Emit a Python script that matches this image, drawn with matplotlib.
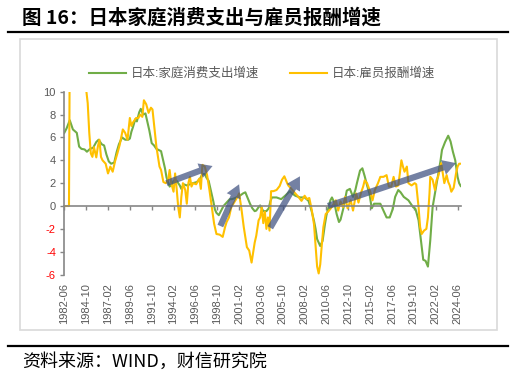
import matplotlib
matplotlib.use("Agg")
import matplotlib.pyplot as plt
from matplotlib.lines import Line2D
from matplotlib.patches import Rectangle

plt.rcParams['font.family'] = ['Liberation Sans', 'Noto Sans CJK SC']

# months counted from 1982-06 (0)
green_m = [0, 3, 7, 11, 16, 19, 22, 26, 29, 33, 37, 41, 44, 48, 51, 54, 57, 60, 64, 67,
           70, 74, 78, 82, 84, 86, 88, 91, 93, 96, 98, 101, 104, 106, 109, 112, 115, 118, 121, 124,
           127, 129, 131, 133, 135, 138, 140, 144, 148, 150, 153, 157, 161, 165, 170, 174, 177, 180, 182, 185,
           187, 189, 191, 193, 195, 198, 201, 204, 208, 212, 215, 219, 222, 225, 229, 232, 235, 238, 241, 244,
           246, 249, 251, 253, 255, 259, 262, 264, 266, 272, 278, 283, 286, 289, 292, 296, 302, 308, 313, 317,
           320, 322, 324, 328, 331, 334, 336, 339, 341, 343, 346, 349, 352, 354, 358, 362, 366, 370, 373, 375,
           379, 382, 385, 388, 391, 394, 397, 401, 405, 409, 413, 417, 421, 424, 428, 431, 435, 441, 447, 450,
           454, 457, 460, 463, 466, 469, 472, 475, 478, 482, 484, 488, 492, 495, 498, 501, 504, 506, 508]
green_v = [6.4, 6.8, 7.5, 6.7, 6.4, 5.2, 5.0, 4.95, 4.75, 5.0, 5.1, 5.6, 5.8, 5.4, 5.3, 4.5, 3.9, 3.7, 3.8, 4.7,
           5.4, 6.0, 5.8, 5.8, 5.9, 6.5, 6.9, 7.6, 7.4, 8.2, 8.5, 8.0, 8.1, 7.5, 6.6, 5.5, 5.3, 5.0, 4.9, 4.8,
           3.9, 3.3, 2.5, 2.1, 1.7, 1.9, 2.2, 2.2, 1.8, 1.5, 1.9, 1.8, 1.9, 2.0, 2.1, 2.4, 2.8, 2.8, 2.5, 2.2,
           1.6, 1.0, 0.4, -0.3, -0.6, -0.8, -0.4, 0.0, 0.3, 0.6, 0.6, 0.7, 0.8, 0.9, 1.1, 1.2, 0.7, 0.2, -0.2, -0.45,
           -0.4, -0.1, 0.05, -0.2, -0.45, -0.45, -0.2, 0.4, 0.75, 0.75, 0.6, 0.9, 1.1, 1.3, 1.1, 0.9, 0.75, 0.75, 0.45, -0.45,
           -1.3, -2.0, -2.9, -3.5, -3.05, -1.6, -0.8, 0.0, 0.5, 0.75, 0.3, -0.7, -1.4, -1.2, -0.1, 1.35, 1.5, 0.8, 1.4, 2.0,
           3.1, 3.3, 2.6, 1.8, 1.1, -0.2, 0.2, 0.2, 0.2, -0.4, -1.0, -1.0, -0.25, 0.8, 1.4, 1.2, 0.8, 0.5, -0.1, -0.25,
           -1.25, -3.0, -4.7, -4.8, -5.3, -3.0, -0.1, 1.1, 2.25, 3.9, 4.9, 5.6, 6.15, 5.65, 4.75, 4.0, 2.55, 2.0, 1.75]

yellow_m = [0, 6, 7, 12, 18, 24, 27, 28, 30, 32, 34, 36, 38, 41, 43, 45, 47, 49, 53, 56,
            59, 62, 65, 68, 71, 75, 78, 81, 84, 86, 88, 92, 95, 97, 100, 102, 105, 108, 111, 113,
            116, 118, 122, 124, 127, 130, 133, 135, 137, 140, 142, 144, 146, 148, 150, 152, 155, 157, 159, 161,
            163, 165, 169, 173, 175, 177, 180, 183, 186, 189, 192, 195, 199, 203, 206, 208, 211, 214, 218, 222,
            224, 227, 230, 234, 237, 240, 242, 244, 246, 249, 251, 253, 255, 257, 259, 261, 263, 265, 268, 272,
            276, 279, 282, 285, 287, 291, 296, 300, 304, 308, 311, 314, 317, 320, 322, 324, 326, 328, 330, 332,
            335, 338, 341, 345, 348, 351, 354, 357, 360, 363, 367, 370, 374, 377, 380, 383, 385, 388, 392, 395,
            398, 402, 405, 409, 413, 416, 419, 422, 425, 428, 430, 432, 434, 436, 439, 441, 445, 449, 451, 454,
            456, 458, 461, 464, 466, 468, 469, 472, 475, 477, 479, 481, 483, 485, 487, 490, 492, 494, 496, 499,
            502, 504, 506, 508]
yellow_v = [0, 0, 14, 16, 15, 14, 12, 10.2, 9.0, 6.4, 4.6, 4.3, 5.15, 4.25, 5.2, 5.8, 4.3, 4.0, 3.7, 2.85,
            3.45, 3.0, 3.9, 4.6, 5.35, 6.7, 6.4, 5.8, 7.7, 7.0, 7.3, 7.7, 7.7, 8.0, 7.8, 9.25, 8.9, 8.15, 8.6, 8.45,
            6.5, 5.2, 3.45, 3.15, 2.1, 2.0, 2.25, 3.15, 2.0, 1.25, 2.85, 1.5, -0.1, -1.0, 0.8, 2.0, 1.4, 0.2, 2.0, 2.55,
            1.7, 2.0, 1.9, 2.4, 1.5, 3.6, 3.45, 2.7, 1.4, -0.1, -1.55, -2.45, -2.5, -2.7, -1.85, -1.4, -1.0, -0.1, 0.35, 0.8,
            1.1, -0.25, -1.85, -3.6, -3.9, -4.95, -4.05, -3.2, -2.6, -1.25, -1.0, -0.1, -1.5, -0.5, -2.0, -1.0, -2.15, 1.3, 1.3, 1.4,
            1.75, 2.3, 2.6, 2.1, 1.8, 1.5, 1.1, 0.8, 0.45, 0.9, 0.6, 0.7, -0.3, -1.6, -3.5, -5.3, -5.9, -5.1, -3.4, -1.85,
            -0.7, -0.5, -0.25, 0.15, 0.5, -0.4, 0.4, -0.1, 0.8, -0.2, 0.5, -0.4, 1.1, 0.3, 1.1, 1.7, 2.25, 2.0, 1.25, 0.5,
            1.4, 2.0, 2.55, 2.55, 2.7, 1.7, 1.7, 2.55, 1.7, 1.8, 2.85, 4.0, 3.45, 3.0, 3.45, 2.0, 1.8, 2.0, 1.9, -0.1,
            -1.85, -2.45, -2.15, -2.0, -1.0, 1.1, 2.55, 2.3, 1.4, 2.25, 2.55, 3.15, 3.75, 2.9, 2.0, 2.7, 2.1, 1.8, 1.25, 1.6,
            2.85, 3.45, 3.7, 3.7]

tick_m = [0, 28, 56, 84, 112, 140, 168, 196, 224, 252, 280, 308, 336, 364, 392, 420, 448, 476, 504]
tick_labels = ['1982-06', '1984-10', '1987-02', '1989-06', '1991-10', '1994-02', '1996-06', '1998-10',
               '2001-02', '2003-06', '2005-10', '2008-02', '2010-06', '2012-10', '2015-02', '2017-06',
               '2019-10', '2022-02', '2024-06']
y_ticks = [10, 8, 6, 4, 2, 0, -2, -4, -6]

# trend arrows (tail, head) in data coords
trend_arrows = [((131, 2.0), (190, 3.5)),
                ((200, -1.75), (224, 1.9)),
                ((264, -1.9), (302, 2.6)),
                ((338, 0.0), (502, 3.75))]

W, H = 517, 381
fig = plt.figure(figsize=(W / 100, H / 100), dpi=100)

def fx(x):
    return x / W

def fy(y):
    return 1 - y / H

ax = fig.add_axes([fx(64.3), fy(274.6), fx(460.7) - fx(64.3), fy(91.7) - fy(274.6)])

ax.plot(green_m, green_v, color='#70AD47', lw=1.5, label='日本:家庭消费支出增速')
ax.plot(yellow_m, yellow_v, color='#FFC000', lw=1.5, label='日本:雇员报酬增速')

for tail, head in trend_arrows:
    ax.annotate('', xy=head, xytext=tail,
                arrowprops=dict(arrowstyle='simple,head_length=0.95,head_width=1.1,tail_width=0.45',
                                mutation_scale=10, color='#3f5080', alpha=0.72, lw=0,
                                shrinkA=0, shrinkB=0))

ax.set_xlim(0, 508)
ax.set_ylim(-6, 10)
ax.set_yticks(y_ticks)
ax.set_yticklabels([str(v) for v in y_ticks], fontsize=8)
for lab, v in zip(ax.get_yticklabels(), y_ticks):
    lab.set_color('#FF0000' if v < 0 else '#595959')

ax.spines['top'].set_visible(False)
ax.spines['right'].set_visible(False)
ax.spines['left'].set_color('#868686')
ax.spines['bottom'].set_color('#868686')
ax.spines['bottom'].set_position(('data', 0))
ax.spines['left'].set_linewidth(1.2)
ax.spines['bottom'].set_linewidth(1.2)
ax.set_xticks(tick_m)
ax.tick_params(axis='x', labelbottom=False, direction='out', length=3, color='#868686', width=1)
ax.tick_params(axis='y', direction='out', length=3, color='#868686', width=1, pad=3)

sec = ax.secondary_xaxis('bottom')
sec.set_xticks(tick_m)
sec.set_xticklabels(tick_labels, rotation=90, fontsize=8, color='#595959')
sec.spines['bottom'].set_visible(False)
sec.tick_params(length=0, pad=6)

fig.legend(loc='center', bbox_to_anchor=(fx(262), fy(74)), ncol=2, frameon=False,
           fontsize=9, handlelength=3.0, handletextpad=0.4, columnspacing=2.4,
           labelcolor='#595959')

# title, rules, frame, source
fig.text(fx(22), fy(18), '图 16：日本家庭消费支出与雇员报酬增速', fontsize=14, fontweight='bold',
         va='center', ha='left', family=['Noto Sans CJK SC'])
fig.add_artist(Line2D([fx(8), fx(508)], [fy(32), fy(32)], color='black', lw=1.6))
fig.add_artist(Line2D([fx(8), fx(508)], [fy(346), fy(346)], color='black', lw=1.6))
fig.add_artist(Rectangle((fx(19.5), fy(330)), fx(497) - fx(19.5), fy(39) - fy(330),
                         fill=False, edgecolor='#d9d9d9', lw=1.2))
fig.text(fx(22), fy(362), '资料来源：WIND，财信研究院', fontsize=13, style='italic',
         va='center', ha='left', family=['Noto Sans CJK SC'])

fig.savefig('out.png', dpi=100)
